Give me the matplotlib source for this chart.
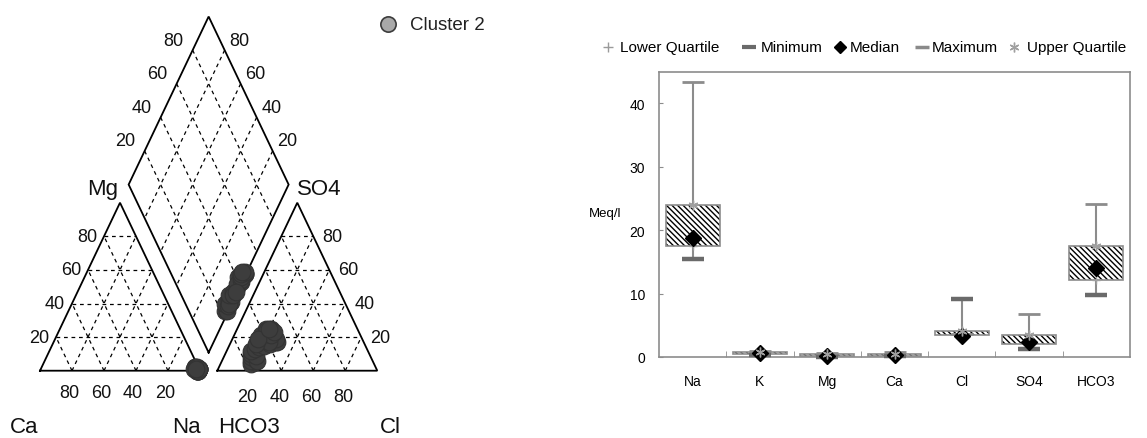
import numpy as np
import matplotlib
matplotlib.use("Agg")
import matplotlib.pyplot as plt

plt.rcParams['font.family'] = ['Liberation Sans', 'DejaVu Sans']
plt.rcParams['hatch.linewidth'] = 1.0

# ---------------- Box plot statistics (meq/l) ----------------
ions = ["Na", "K", "Mg", "Ca", "Cl", "SO4", "HCO3"]
minimum = [15.4, 0.3, 0.05, 0.1, 9.1, 1.3, 9.8]
lower_quartile = [17.5, 0.55, 0.15, 0.2, 3.4, 2.1, 12.2]
median = [18.7, 0.6, 0.1, 0.35, 3.3, 2.4, 14.0]
maximum = [43.4, 1.0, 0.6, 0.8, 3.6, 6.8, 24.1]
upper_quartile = [23.9, 0.75, 0.4, 0.5, 4.1, 3.4, 17.5]

# ---------------- Piper samples, cluster 2 (% of meq/l) ----------------
na_pct = [98, 97, 99, 98, 96, 97, 98, 99, 97, 98, 96, 97, 98, 99, 99,
          99, 99, 96, 98, 97, 99, 98, 97, 99, 98, 97, 99, 99, 97]
mg_pct = [1, 1, 0, 1, 2, 1, 0, 0, 1, 1, 2, 1, 0, 1, 1,
          1, 1, 1, 0, 1, 0, 1, 1, 1, 1, 2, 0, 1, 1]
ca_pct = [1, 2, 1, 1, 2, 2, 2, 1, 2, 1, 2, 2, 2, 0, 0,
          0, 0, 3, 2, 2, 1, 1, 2, 0, 1, 1, 1, 0, 2]
cl_pct = [19, 21, 18, 20, 17, 22, 16, 18, 20, 15, 17, 19, 22, 25, 28,
          29, 27, 24, 16, 17, 20, 22, 18, 21, 19, 23, 16, 24, 20]
so4_pct = [4, 5, 6, 7, 8, 6, 10, 11, 9, 12, 13, 14, 15, 16, 17,
           17, 19, 17, 16, 21, 22, 23, 25, 25, 24, 21, 19, 23, 25]
hco3_pct = [77, 74, 76, 73, 75, 72, 74, 71, 71, 73, 70, 67, 63, 59, 55,
            54, 54, 59, 68, 62, 58, 55, 57, 54, 57, 56, 65, 53, 55]

grid_levels = [20, 40, 60, 80]

W, H = 1147, 439
fig = plt.figure(figsize=(W / 100, H / 100), dpi=100)
fig.patch.set_facecolor("white")

# =============================== Piper diagram ===============================
GAP = 0.108
HT = np.sqrt(3) / 2
# pixel frame of the piper panel: unit length 160 px wide, triangle height 168 px
x_px, y_px, base_px = 160.0, 168.0 / HT, 371.7
axp = fig.add_axes([0, 0, 560 / W, 1])
axp.set_xlim(-40 / x_px, (560 - 40) / x_px)
axp.set_ylim(-(H - base_px) / y_px, base_px / y_px)
axp.axis("off")


def cation_xy(ca, mg, na):
    ca, mg, na = (np.asarray(v, float) for v in (ca, mg, na))
    t = ca + mg + na
    return na / t + 0.5 * mg / t, HT * mg / t


def anion_xy(hco3, so4, cl):
    hco3, so4, cl = (np.asarray(v, float) for v in (hco3, so4, cl))
    t = hco3 + so4 + cl
    return 1 + GAP + cl / t + 0.5 * so4 / t, HT * so4 / t


def diamond_xy(na_frac, hco3_frac):
    na_frac = np.asarray(na_frac, float)
    hco3_frac = np.asarray(hco3_frac, float)
    x = (na_frac + 2 + GAP - hco3_frac) / 2
    y = HT * (2 + GAP - hco3_frac - na_frac)
    return x, y


edge_kw = dict(color="black", lw=1.3, solid_joinstyle="miter", zorder=3)
grid_kw = dict(color="black", lw=0.9, linestyle=(0, (3, 3)), zorder=2)

# triangle outlines
for off in (0.0, 1 + GAP):
    axp.plot([off, off + 1, off + 0.5, off], [0, 0, HT, 0], **edge_kw)
# diamond outline
dB = diamond_xy(1, 1)
dR = diamond_xy(1, 0)
dT = diamond_xy(0, 0)
dL = diamond_xy(0, 1)
axp.plot([dB[0], dR[0], dT[0], dL[0], dB[0]],
         [dB[1], dR[1], dT[1], dL[1], dB[1]], **edge_kw)

# triangle grids
for off in (0.0, 1 + GAP):
    for lv in grid_levels:
        f = lv / 100
        # apex component constant
        axp.plot([off + 0.5 * f, off + 1 - 0.5 * f], [HT * f, HT * f], **grid_kw)
        # left corner component constant
        axp.plot([off + 1 - f, off + 0.5 * (1 - f)], [0, HT * (1 - f)], **grid_kw)
        # right corner component constant
        axp.plot([off + f, off + f + 0.5 * (1 - f)], [0, HT * (1 - f)], **grid_kw)
# diamond grid
for lv in grid_levels:
    f = lv / 100
    xa, ya = diamond_xy([f, f], [0, 1])
    axp.plot(xa, ya, **grid_kw)
    xb, yb = diamond_xy([0, 1], [f, f])
    axp.plot(xb, yb, **grid_kw)

num_kw = dict(fontsize=13, ha="center", va="center", textcoords="offset pixels",
              color="#111111")
for lv in grid_levels:
    f = lv / 100
    s = str(lv)
    # Mg along the left side of the cation triangle
    axp.annotate(s, (0.5 * f, HT * f), xytext=(-17, 0), **num_kw)
    # Ca along the cation base
    axp.annotate(s, (1 - f, 0), xytext=(-3, -22), **num_kw)
    # SO4 along the right side of the anion triangle
    axp.annotate(s, (2 + GAP - 0.5 * f, HT * f), xytext=(19, 0), **num_kw)
    # Cl along the anion base
    axp.annotate(s, (1 + GAP + f, 0), xytext=(-2, -26), **num_kw)
    # SO4+Cl on the upper-left diamond edge
    axp.annotate(s, diamond_xy(0, 1 - f), xytext=(-19, 10), **num_kw)
    # Ca+Mg on the upper-right diamond edge
    axp.annotate(s, diamond_xy(1 - f, 0), xytext=(15, 10), **num_kw)

# samples
pt_kw = dict(ls="none", marker="o", ms=12, mfc="#3d3d3d", mec="#333333",
             mew=0.8, zorder=5, clip_on=False)
cx, cy = cation_xy(ca_pct, mg_pct, na_pct)
axp.plot(cx, cy, **pt_kw)
ax_, ay_ = anion_xy(hco3_pct, so4_pct, cl_pct)
axp.plot(ax_, ay_, **pt_kw)
na_frac = np.asarray(na_pct, float) / (np.asarray(na_pct) + np.asarray(mg_pct) + np.asarray(ca_pct))
hc_frac = np.asarray(hco3_pct, float) / (np.asarray(hco3_pct) + np.asarray(so4_pct) + np.asarray(cl_pct))
dx, dy = diamond_xy(na_frac, hc_frac)
axp.plot(dx, dy, **pt_kw)

# ============================ Box plot of ions ============================
ax = fig.add_axes([659 / W, (H - 358) / H, 471 / W, 285 / H])
x = np.arange(len(ions))
stats = np.array([minimum, lower_quartile, median, maximum, upper_quartile])
lo = stats.min(axis=0)
hi = stats.max(axis=0)
lq = np.array(lower_quartile)
uq = np.array(upper_quartile)

gray = "#8c8c8c"
ax.vlines(x, lo, hi, color=gray, lw=1.5, zorder=1)
ax.bar(x, uq - lq, bottom=lq, width=0.8, color="white", edgecolor="black",
       hatch="\\\\\\\\\\\\", linewidth=0, zorder=2)
ax.bar(x, uq - lq, bottom=lq, width=0.8, fill=False, edgecolor=gray,
       linewidth=1.2, zorder=2.5)
ax.plot(x, maximum, ls="none", marker="_", ms=16, mew=2.0, color=gray,
        zorder=3, clip_on=False)
ax.plot(x, minimum, ls="none", marker="_", ms=16, mew=3.2, color="#6a6a6a",
        zorder=3, clip_on=False)
ax.plot(x, lower_quartile, ls="none", marker="+", ms=6, mew=1.0,
        color="#a0a0a0", zorder=3.5, clip_on=False)
ax.plot(x, median, ls="none", marker="D", ms=8.5, color="black", zorder=4,
        clip_on=False)
ax.plot(x, upper_quartile, ls="none", marker=(6, 2, 0), ms=7, mew=1.0,
        color="#a0a0a0", zorder=4.5, clip_on=False)

ax.set_xlim(-0.5, len(ions) - 0.5)
ax.set_ylim(0, 44.9)
ax.set_yticks([0, 10, 20, 30, 40])
ax.set_xticks(x, ions)
ax.set_xticks(np.arange(0.5, len(ions) - 1, 1), minor=True)
ax.tick_params(axis="x", which="major", length=0, pad=12, labelsize=10)
ax.tick_params(axis="x", which="minor", direction="in", length=4, color=gray)
ax.tick_params(axis="y", direction="in", length=3, color=gray, pad=10,
               labelsize=10)
for sp in ax.spines.values():
    sp.set_color(gray)
    sp.set_linewidth(1.2)

# ============================ overlay: labels and legends ============================
ov = fig.add_axes([0, 0, 1, 1], zorder=10)
ov.set_xlim(0, W)
ov.set_ylim(H, 0)
ov.axis("off")
ov.patch.set_alpha(0)

corner_kw = dict(fontsize=16, va="baseline", color="#111111")
ov.text(118, 195, "Mg", ha="right", **corner_kw)
ov.text(297, 195, "SO4", ha="left", **corner_kw)
ov.text(10, 433, "Ca", ha="left", **corner_kw)
ov.text(172, 433, "Na", ha="left", **corner_kw)
ov.text(218, 433, "HCO3", ha="left", **corner_kw)
ov.text(380, 433, "Cl", ha="left", **corner_kw)

ov.plot([388], [25], ls="none", marker="o", ms=11, mfc="#a9a9a9", mec="#3c3c3c",
        mew=1.2)
ov.text(410, 25, "Cluster 2", fontsize=13.5, ha="left", va="center",
        color="#222222")

ov.text(621, 214, "Meq/l", fontsize=9.5, ha="right", va="center")

leg_y = 48
leg_items = [
    (608, 620, "Lower Quartile", dict(marker="+", ms=7, mew=1.0, color="#9a9a9a")),
    (749, 761, "Minimum", dict(marker="_", ms=10, mew=3.0, color="#6a6a6a")),
    (840, 850, "Median", dict(marker="D", ms=6, color="black")),
    (922, 932, "Maximum", dict(marker="_", ms=10, mew=2.5, color="#8a8a8a")),
    (1014, 1027, "Upper Quartile", dict(marker=(6, 2, 0), ms=7, mew=1.0, color="#a0a0a0")),
]
for mx, tx, label, mk in leg_items:
    ov.plot([mx], [leg_y], ls="none", **mk)
    ov.text(tx, leg_y, label, fontsize=11, ha="left", va="center")

fig.savefig("out.png", dpi=100, facecolor="white")
